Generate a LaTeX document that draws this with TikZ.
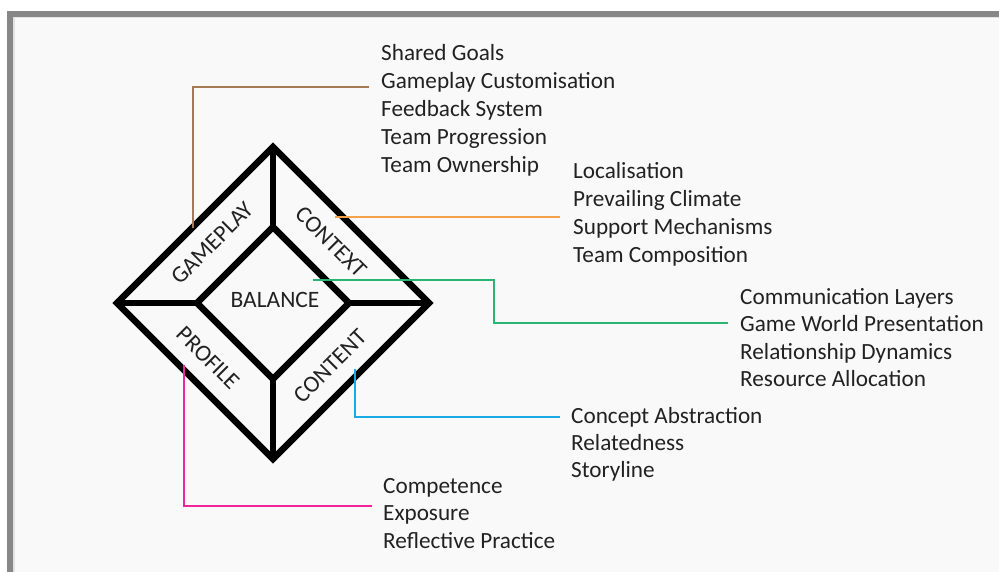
\documentclass[tikz,border=0pt]{standalone}
\usepackage{fontspec}
\setmainfont{Carlito}
\definecolor{bgc}{HTML}{F9F9F9}
\definecolor{framec}{HTML}{878787}
\definecolor{edgec}{HTML}{E2E2E2}
\definecolor{txtc}{HTML}{222222}
\definecolor{brownc}{HTML}{A47B55}
\definecolor{orangec}{HTML}{F5A34A}
\definecolor{greenc}{HTML}{2BB573}
\definecolor{bluec}{HTML}{1AAAE6}
\definecolor{pinkc}{HTML}{F0259A}
\begin{document}
\begin{tikzpicture}[x=1pt,y=-1pt,
  heavy/.style={line width=6.5pt,line join=miter,black},
  item/.style={anchor=base west,inner sep=0pt,text=txtc,font=\fontsize{23.2}{27}\selectfont},
  facet/.style={inner sep=0pt,text=txtc,font=\fontsize{23.5}{27}\selectfont},
  link/.style={line width=2pt}]
\useasboundingbox (0,0) rectangle (999,572);
\fill[white] (0,0) rectangle (999,572);
\fill[bgc] (7,11) rectangle (999,572);
\fill[edgec] (13,17) rectangle (999,18.5);
\fill[edgec] (13,17) rectangle (14.5,572);
\fill[framec] (7,11) rectangle (999,17);
\fill[framec] (7,11) rectangle (13,572);

% diamond
\coordinate (OT) at (273,147);
\coordinate (OR) at (429,303);
\coordinate (OB) at (273,459);
\coordinate (OL) at (117,303);
\coordinate (IT) at (273,227);
\coordinate (IR) at (349,303);
\coordinate (IB) at (273,379);
\coordinate (IL) at (197,303);
\draw[heavy] (OT) -- (OR) -- (OB) -- (OL) -- cycle;
\draw[heavy] (IT) -- (IR) -- (IB) -- (IL) -- cycle;
\draw[heavy] (OT) -- (IT);
\draw[heavy] (OR) -- (IR);
\draw[heavy] (OB) -- (IB);
\draw[heavy] (OL) -- (IL);

\node[facet] (balance) at (275,300) {BALANCE};
\node[facet,rotate=45] (gameplay) at (212,243) {GAMEPLAY};
\node[facet,rotate=-45] (context) at (331,242) {CONTEXT};
\node[facet,rotate=-45] (profile) at (208,358) {PROFILE};
\node[facet,rotate=45] (content) at (330,366) {CONTENT};

% lists
\node[item] (g1) at (381,60.5) {Shared Goals};
\node[item] (g2) at (381,88.5) {Gameplay Customisation};
\node[item] (g3) at (381,116.5) {Feedback System};
\node[item] (g4) at (381,144.5) {Team Progression};
\node[item] (g5) at (381,172.5) {Team Ownership};

\node[item] (c1) at (573,178.5) {Localisation};
\node[item] (c2) at (573,206.5) {Prevailing Climate};
\node[item] (c3) at (573,234.5) {Support Mechanisms};
\node[item] (c4) at (573,262.5) {Team Composition};

\node[item] (b1) at (740,304) {Communication Layers};
\node[item] (b2) at (740,331.5) {Game World Presentation};
\node[item] (b3) at (740,359) {Relationship Dynamics};
\node[item] (b4) at (740,386.5) {Resource Allocation};

\node[item] (n1) at (571,423) {Concept Abstraction};
\node[item] (n2) at (571,450) {Relatedness};
\node[item] (n3) at (571,477) {Storyline};

\node[item] (p1) at (383,493) {Competence};
\node[item] (p2) at (383,520.5) {Exposure};
\node[item] (p3) at (383,548) {Reflective Practice};

% connectors
\coordinate (gs) at (193,228);
\coordinate (ge) at (369,87);
\draw[link,brownc] (gs) |- (ge);
\coordinate (cs) at (335,217.5);
\coordinate (ce) at (560,217.5);
\draw[link,orangec] (cs) -- (ce);
\coordinate (bs) at (313,280.5);
\coordinate (be) at (728,323);
\draw[link,greenc] (bs) -- (494,280.5) |- (be);
\coordinate (ns) at (355,369);
\coordinate (ne) at (560,417);
\draw[link,bluec] (ns) |- (ne);
\coordinate (ps) at (184,365);
\coordinate (pe) at (372,506);
\draw[link,pinkc] (ps) |- (pe);
\end{tikzpicture}
\end{document}
